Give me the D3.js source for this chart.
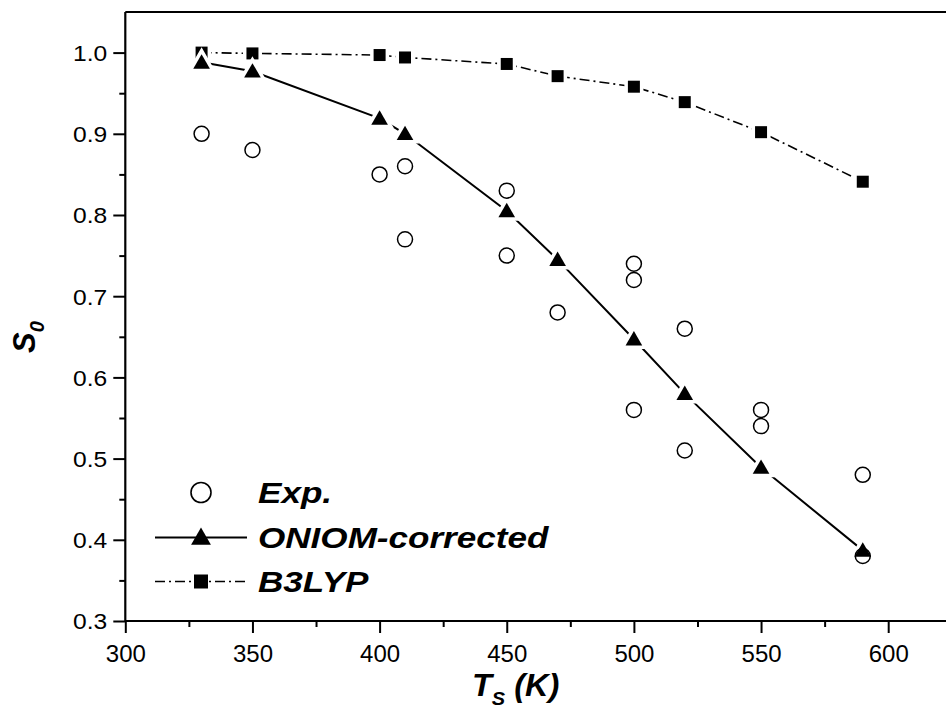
<!DOCTYPE html>
<html>
<head>
<meta charset="utf-8">
<script src="https://cdn.jsdelivr.net/npm/d3@7"></script>
<style>
  body { margin: 0; background: #fff; }
  svg { display: block; font-family: "Liberation Sans", Arial, sans-serif; }
</style>
</head>
<body>
<div id="chart"></div>
<script>
// Calculated sticking probabilities (same temperatures for both models)
const calcTemps = [330, 350, 400, 410, 450, 470, 500, 520, 550, 590];
const oniomValues = [0.988, 0.977, 0.919, 0.900, 0.805, 0.745, 0.647, 0.580, 0.489, 0.387];
const b3lypValues = [1.000, 0.999, 0.997, 0.994, 0.986, 0.971, 0.958, 0.939, 0.902, 0.841];

// Experimental points
const expTemps = [330, 350, 400, 410, 410, 450, 450, 470, 500, 500, 500, 520, 520, 550, 550, 590, 590];
const expValues = [0.90, 0.88, 0.85, 0.86, 0.77, 0.83, 0.75, 0.68, 0.74, 0.72, 0.56, 0.66, 0.51, 0.56, 0.54, 0.48, 0.38];

// Tick labels
const xTicks = [300, 350, 400, 450, 500, 550, 600];
const xMinorTicks = [325, 375, 425, 475, 525, 575];
const yTicks = [0.3, 0.4, 0.5, 0.6, 0.7, 0.8, 0.9, 1.0];
const yMinorTicks = [0.35, 0.45, 0.55, 0.65, 0.75, 0.85, 0.95];

const legendLabels = ["Exp.", "ONIOM-corrected", "B3LYP"];

const W = 946, H = 708;
const plotLeft = 125.3, plotTop = 12, plotBottom = 621;

const svg = d3.select("#chart").append("svg")
  .attr("width", W)
  .attr("height", H);

// Scales: x axis runs past the right edge of the picture
const x = d3.scaleLinear().domain([300, 625]).range([plotLeft, plotLeft + 325 * 2.543]);
const y = d3.scaleLinear().domain([0.3, 1.05]).range([plotBottom, plotTop]);

// Axes
const xAxis = svg.append("g")
  .attr("transform", `translate(0,${plotBottom})`)
  .call(d3.axisBottom(x).tickValues(xTicks).tickSize(12).tickFormat(d3.format("d")));
svg.append("g")
  .attr("transform", `translate(0,${plotBottom})`)
  .call(d3.axisBottom(x).tickValues(xMinorTicks).tickSize(6).tickFormat(""));

const yAxis = svg.append("g")
  .attr("transform", `translate(${plotLeft},0)`)
  .call(d3.axisLeft(y).tickValues(yTicks).tickSize(12).tickFormat(d3.format(".1f")));
svg.append("g")
  .attr("transform", `translate(${plotLeft},0)`)
  .call(d3.axisLeft(y).tickValues(yMinorTicks).tickSize(6).tickFormat(""));

svg.selectAll(".domain").remove();
svg.selectAll(".tick line").attr("stroke", "#000").attr("stroke-width", 2);

xAxis.selectAll(".tick text")
  .attr("y", 41).attr("dy", 0)
  .attr("font-size", 24).attr("fill", "#000").attr("font-family", "Liberation Sans, Arial, sans-serif");
// labels in the original are a bit wider than Arial
yAxis.selectAll(".tick text")
  .attr("x", 0).attr("dy", "0.36em")
  .attr("transform", "translate(-18,0) scale(1.12,1)")
  .attr("font-size", 22).attr("fill", "#000").attr("font-family", "Liberation Sans, Arial, sans-serif");

// Frame lines (left, bottom, top)
svg.append("line").attr("x1", plotLeft).attr("x2", W).attr("y1", plotBottom).attr("y2", plotBottom)
  .attr("stroke", "#000").attr("stroke-width", 2.2);
svg.append("line").attr("x1", plotLeft).attr("x2", W).attr("y1", plotTop).attr("y2", plotTop)
  .attr("stroke", "#000").attr("stroke-width", 2.2);
svg.append("line").attr("x1", plotLeft).attr("x2", plotLeft).attr("y1", plotTop).attr("y2", plotBottom)
  .attr("stroke", "#000").attr("stroke-width", 2.2);

// Axis titles
const xTitle = svg.append("text")
  .attr("transform", "translate(472,696) scale(1.05,1)")
  .attr("font-size", 31).attr("font-weight", "bold").attr("font-style", "italic");
xTitle.append("tspan").text("T");
xTitle.append("tspan").attr("font-size", 19).attr("dy", 9).text("S");
xTitle.append("tspan").attr("dy", -9).text(" (K)");

const yTitle = svg.append("text")
  .attr("transform", "translate(35,353) rotate(-90)")
  .attr("font-size", 31).attr("font-weight", "bold").attr("font-style", "italic");
yTitle.append("tspan").text("S");
yTitle.append("tspan").attr("font-size", 20).attr("dy", 9).text("0");

// Marker shapes
const triangle = d3.symbol().type(d3.symbolTriangle).size(120);
const square = d3.symbol().type(d3.symbolSquare).size(144);

const oniomData = calcTemps.map((t, i) => ({ t, v: oniomValues[i] }));
const b3lypData = calcTemps.map((t, i) => ({ t, v: b3lypValues[i] }));
const expData = expTemps.map((t, i) => ({ t, v: expValues[i] }));

const line = d3.line().x(d => x(d.t)).y(d => y(d.v));

svg.append("path")
  .datum(b3lypData)
  .attr("fill", "none").attr("stroke", "#000").attr("stroke-width", 1.6)
  .attr("stroke-dasharray", "10,4,2,4")
  .attr("d", line);

svg.append("path")
  .datum(oniomData)
  .attr("fill", "none").attr("stroke", "#000").attr("stroke-width", 2)
  .attr("d", line);

// white halos so lines stop short of the markers
function markers(data, shape, halo) {
  const shift = shape === triangle ? 1.5 : 0;
  svg.append("g").selectAll("path")
    .data(data).enter().append("path")
    .attr("transform", d => `translate(${x(d.t)},${y(d.v) + shift})`)
    .attr("d", shape)
    .attr("fill", "#fff").attr("stroke", "#fff").attr("stroke-width", halo);
  svg.append("g").selectAll("path")
    .data(data).enter().append("path")
    .attr("transform", d => `translate(${x(d.t)},${y(d.v) + shift})`)
    .attr("d", shape)
    .attr("fill", "#000");
}
markers(b3lypData, square, 7);
markers(oniomData, triangle, 7);

svg.append("g").selectAll("circle")
  .data(expData).enter().append("circle")
  .attr("cx", d => x(d.t)).attr("cy", d => y(d.v))
  .attr("r", 7.5)
  .attr("fill", "none").attr("stroke", "#000").attr("stroke-width", 1.5);

// Legend
const legend = svg.append("g");
const rowY = [492.5, 537.5, 581.5];

legend.append("circle").attr("cx", 201).attr("cy", rowY[0]).attr("r", 10)
  .attr("fill", "none").attr("stroke", "#000").attr("stroke-width", 1.6);

legend.append("line").attr("x1", 155).attr("x2", 247).attr("y1", rowY[1]).attr("y2", rowY[1])
  .attr("stroke", "#000").attr("stroke-width", 2);
legend.append("path").attr("transform", `translate(201,${rowY[1] + 1.5})`)
  .attr("d", d3.symbol().type(d3.symbolTriangle).size(170)).attr("fill", "#000");

legend.append("line").attr("x1", 155).attr("x2", 247).attr("y1", rowY[2]).attr("y2", rowY[2])
  .attr("stroke", "#000").attr("stroke-width", 1.6).attr("stroke-dasharray", "10,4,2,4");
legend.append("path").attr("transform", `translate(201,${rowY[2]})`)
  .attr("d", d3.symbol().type(d3.symbolSquare).size(196)).attr("fill", "#000");

legend.selectAll("text")
  .data(legendLabels).enter().append("text")
  .attr("transform", (d, i) => `translate(258,${rowY[i] + 10.5}) scale(1.17,1)`)
  .attr("font-size", 30).attr("font-weight", "bold").attr("font-style", "italic")
  .text(d => d);
</script>
</body>
</html>
